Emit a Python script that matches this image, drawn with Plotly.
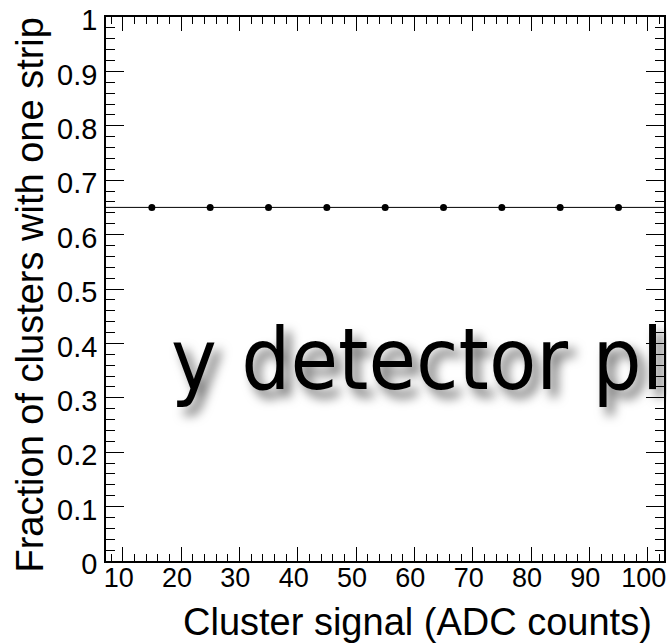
import plotly.graph_objects as go

# ---- data ----
cluster_signal = [15, 25, 35, 45, 55, 65, 75, 85, 95]
fraction_one_strip = [0.65, 0.65, 0.65, 0.65, 0.65, 0.65, 0.65, 0.65, 0.65]
fit_level = 0.65
x_range = [7.14, 102.8]
y_range = [0.0, 1.0]
x_tickvals = [10, 20, 30, 40, 50, 60, 70, 80, 90, 100]
y_tickvals = [0, 0.1, 0.2, 0.3, 0.4, 0.5, 0.6, 0.7, 0.8, 0.9, 1.0]
x_title = "Cluster signal (ADC counts)"
y_title = "Fraction of clusters with one strip"
watermark = "y detector pl"

W, H = 667, 643
L, R, T, B = 106, 3, 17, 82
pw = W - L - R
ph = H - T - B

def px_x(p):  # window pixel -> paper
    return (p - L) / pw

def px_y(p):
    return (H - B - p) / ph

fig = go.Figure()
fig.add_trace(go.Scatter(
    x=cluster_signal, y=fraction_one_strip, mode="markers",
    marker=dict(color="black", size=7, symbol="circle"),
    showlegend=False, cliponaxis=False,
))
fig.add_hline(y=fit_level, line=dict(color="black", width=1))

axis_font = dict(family="Liberation Sans, Arial, sans-serif", size=27, color="black")

fig.update_xaxes(
    range=x_range, tickvals=x_tickvals, ticks="inside", ticklen=14, tickwidth=1,
    tickcolor="black", showline=True, linecolor="black", linewidth=1.5,
    mirror="allticks", showgrid=False, zeroline=False, tickfont=axis_font,
    automargin=False, ticklabeloverflow="allow", ticklabelstandoff=-8,
    ticklabelshift=-4,
    minor=dict(dtick=2, tick0=0, ticks="inside", ticklen=7, tickwidth=1,
               tickcolor="black", showgrid=False),
)
fig.update_yaxes(
    range=y_range, tickvals=y_tickvals, ticks="inside", ticklen=18, tickwidth=1,
    tickcolor="black", showline=True, linecolor="black", linewidth=1.5,
    mirror="allticks", showgrid=False, zeroline=False, tickfont=dict(axis_font, size=29),
    automargin=False, ticklabeloverflow="allow", ticklabelstandoff=1,
    ticklabelshift=3,
    minor=dict(dtick=0.02, tick0=0, ticks="inside", ticklen=9, tickwidth=1,
               tickcolor="black", showgrid=False),
)

title_font = dict(family="Liberation Sans, Arial, sans-serif", size=38, color="black")
fig.add_annotation(
    text=x_title, xref="paper", yref="paper", x=px_x(653), y=px_y(600),
    xanchor="right", yanchor="top", showarrow=False, font=title_font, borderpad=0,
)
fig.add_annotation(
    text=y_title, xref="paper", yref="paper", x=px_x(29), y=px_y(17),
    xanchor="center", yanchor="top", textangle=-90, showarrow=False,
    font=title_font, borderpad=0,
)
fig.add_annotation(
    text=watermark, xref="paper", yref="paper", x=px_x(170), y=px_y(359),
    xanchor="left", yanchor="middle", showarrow=False, borderpad=0,
    font=dict(family="DejaVu Sans Condensed, DejaVu Sans, sans-serif", size=86,
              color="black", shadow="7px 8px 11px rgba(0,0,0,0.6)"),
)

fig.update_layout(
    width=W, height=H, margin=dict(l=L, r=R, t=T, b=B, autoexpand=False),
    paper_bgcolor="white", plot_bgcolor="white", showlegend=False,
)
fig.write_html(
    "out.html",
    config={"displayModeBar": False},
    post_script="document.body.style.margin='0';"
                "document.documentElement.style.overflow='hidden';"
                "document.body.style.overflow='hidden';",
)
